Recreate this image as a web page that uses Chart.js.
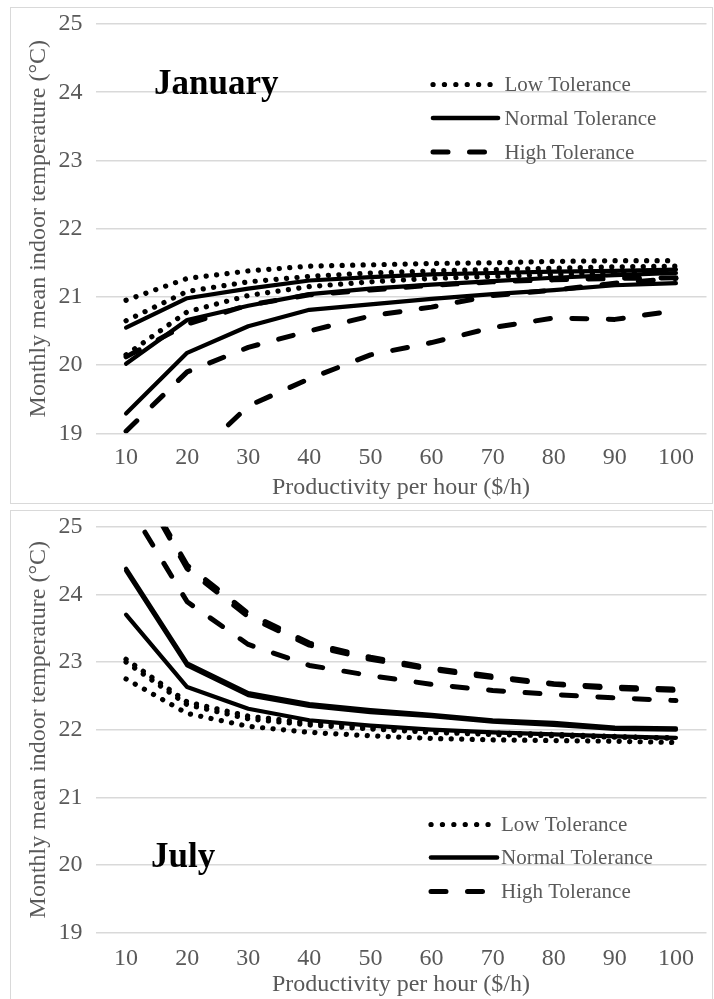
<!DOCTYPE html>
<html>
<head>
<meta charset="utf-8">
<script src="https://cdn.jsdelivr.net/npm/chart.js@4.4.1/dist/chart.umd.min.js"></script>
<style>
  html, body { margin: 0; padding: 0; background: #fff; }
  body { width: 714px; height: 999px; position: relative; overflow: hidden; }
  .frame { position: absolute; border: 1px solid #d9d9d9; box-sizing: border-box; }
  #frameJan { left: 10px; top: 7px; width: 703px; height: 497px; }
  #frameJul { left: 10px; top: 510px; width: 703px; height: 495px; }
  .wrap { position: absolute; left: 0; width: 714px; }
  #wrapJan { top: 0; height: 505px; }
  #wrapJul { top: 505px; height: 494px; }
</style>
</head>
<body>
<div class="frame" id="frameJan"></div>
<div class="frame" id="frameJul"></div>
<div class="wrap" id="wrapJan"><canvas id="janChart"></canvas></div>
<div class="wrap" id="wrapJul"><canvas id="julChart"></canvas></div>
<script>
// Productivity levels on the x axis ($/h)
const productivity = ['10', '20', '30', '40', '50', '60', '70', '80', '90', '100'];
// Temperature ticks on the y axis (°C)
const tempTicks = [19, 20, 21, 22, 23, 24, 25];
const toleranceLabels = ['Low Tolerance', 'Normal Tolerance', 'High Tolerance'];
const monthNames = ['January', 'July'];
const xTitle = 'Productivity per hour ($/h)';
const yTitle = 'Monthly mean indoor temperature (°C)';

// January: monthly mean indoor temperature, three cases per tolerance level
const janLowA  = [20.95, 21.27, 21.38, 21.45, 21.47, 21.49, 21.50, 21.52, 21.53, 21.53];
const janLowB  = [20.65, 21.08, 21.22, 21.30, 21.35, 21.38, 21.40, 21.42, 21.44, 21.45];
const janLowC  = [20.15, 20.78, 21.02, 21.15, 21.22, 21.27, 21.30, 21.33, 21.35, 21.37];
const janNormA = [20.55, 20.98, 21.12, 21.24, 21.29, 21.33, 21.35, 21.37, 21.38, 21.40];
const janNormB = [20.02, 20.66, 20.87, 21.04, 21.12, 21.18, 21.23, 21.28, 21.32, 21.35];
const janNormC = [19.29, 20.18, 20.57, 20.81, 20.89, 20.97, 21.04, 21.10, 21.17, 21.20];
const janHighA = [20.12, 20.60, 20.88, 21.03, 21.10, 21.17, 21.22, 21.25, 21.27, 21.28];
const janHighB = [19.03, 19.90, 20.26, 20.50, 20.72, 20.85, 21.02, 21.10, 21.20, 21.27];
const janHighC = [17.60, 18.55, 19.40, 19.80, 20.15, 20.33, 20.55, 20.69, 20.67, 20.80];

// July: monthly mean indoor temperature, three cases per tolerance level
const julLowA  = [23.04, 22.41, 22.20, 22.10, 22.03, 21.98, 21.95, 21.93, 21.90, 21.87];
const julLowB  = [23.00, 22.37, 22.16, 22.07, 22.01, 21.96, 21.93, 21.91, 21.89, 21.88];
const julLowC  = [22.75, 22.24, 22.05, 21.96, 21.91, 21.87, 21.85, 21.84, 21.83, 21.81];
const julNormA = [24.38, 22.98, 22.54, 22.38, 22.29, 22.22, 22.14, 22.10, 22.03, 22.02];
const julNormB = [24.35, 22.95, 22.51, 22.35, 22.26, 22.20, 22.12, 22.07, 22.01, 22.00];
const julNormC = [23.70, 22.63, 22.31, 22.14, 22.06, 22.00, 21.96, 21.93, 21.90, 21.88];
const julHighA = [26.00, 24.43, 23.72, 23.28, 23.07, 22.91, 22.79, 22.68, 22.63, 22.60];
const julHighB = [25.96, 24.38, 23.67, 23.25, 23.04, 22.89, 22.77, 22.67, 22.61, 22.58];
const julHighC = [25.38, 23.89, 23.26, 22.95, 22.80, 22.67, 22.58, 22.52, 22.47, 22.43];

const SERIF = "'Liberation Serif', 'Times New Roman', serif";
const GREY_TEXT = '#595959';

// Line styles for the three tolerance levels
const styles = {
  low:  { borderWidth: 5.2, borderDash: [0.1, 10.4], borderCapStyle: 'round' },
  norm: { borderWidth: 4.2, borderDash: [],          borderCapStyle: 'round' },
  high: { borderWidth: 5,   borderDash: [15, 21.5],  borderCapStyle: 'round' }
};

function series(values, kind) {
  return Object.assign({
    data: values,
    borderColor: '#000',
    backgroundColor: '#000',
    pointRadius: 0,
    pointHoverRadius: 0,
    tension: 0,
    fill: false,
    clip: 0,
    borderJoinStyle: 'round'
  }, styles[kind]);
}

// Draws the tolerance key and the month name inside the plot
const panelNotes = {
  id: 'panelNotes',
  afterDatasetsDraw(chart, args, opts) {
    const ctx = chart.ctx;
    ctx.save();
    ['low', 'norm', 'high'].forEach((kind, i) => {
      const y = opts.legendY[i];
      const st = styles[kind];
      ctx.strokeStyle = '#000';
      ctx.lineWidth = kind === 'norm' ? 4.6 : st.borderWidth;
      ctx.lineCap = st.borderCapStyle;
      ctx.setLineDash(kind === 'low' ? [0.1, 11.3] : st.borderDash);
      ctx.beginPath();
      ctx.moveTo(opts.sampleX0[i], y);
      ctx.lineTo(opts.sampleX1[i], y);
      ctx.stroke();
      ctx.setLineDash([]);
      ctx.fillStyle = GREY_TEXT;
      ctx.font = opts.legendFont + 'px ' + SERIF;
      ctx.textBaseline = 'middle';
      ctx.textAlign = 'left';
      ctx.fillText(toleranceLabels[i], opts.textX, y + 1);
    });
    ctx.fillStyle = '#000';
    ctx.font = 'bold ' + opts.monthFont + 'px ' + SERIF;
    ctx.textBaseline = 'alphabetic';
    ctx.textAlign = 'left';
    ctx.fillText(opts.month, opts.monthX, opts.monthY);
    ctx.restore();
  }
};

function makeChart(canvasId, datasets, geo, notes) {
  return new Chart(document.getElementById(canvasId), {
    type: 'line',
    data: { labels: productivity, datasets: datasets },
    options: {
      responsive: true,
      maintainAspectRatio: false,
      devicePixelRatio: 1,
      animation: false,
      events: [],
      layout: { padding: { left: 0, top: geo.top, right: 7.5, bottom: geo.bottomPad } },
      plugins: {
        legend: { display: false },
        tooltip: { enabled: false },
        panelNotes: notes
      },
      scales: {
        x: {
          type: 'category',
          offset: true,
          grid: { display: false, drawTicks: false },
          border: { display: false },
          ticks: { color: GREY_TEXT, font: { family: SERIF, size: 24 }, padding: geo.xTickPad, maxRotation: 0, autoSkip: false },
          title: { display: true, text: xTitle, color: GREY_TEXT, font: { family: SERIF, size: 24 }, padding: { top: 0, bottom: geo.xTitlePad } },
          afterFit(scale) {
            scale.height = geo.xHeight;
            scale.paddingLeft = 0;
            scale.paddingRight = 0;
          }
        },
        y: {
          min: 19,
          max: 25,
          afterBuildTicks(scale) { scale.ticks = tempTicks.map(v => ({ value: v })); },
          grid: { color: '#d9d9d9', lineWidth: 1.5, drawTicks: false },
          border: { display: false },
          ticks: { color: GREY_TEXT, font: { family: SERIF, size: 24 }, padding: 13 },
          title: { display: true, text: yTitle, color: GREY_TEXT, font: { family: SERIF, size: 24 }, padding: { top: 24, bottom: 0 } },
          afterFit(scale) {
            scale.width = 95.5;
            scale.paddingTop = 0;
            scale.paddingBottom = 0;
          }
        }
      }
    },
    plugins: [panelNotes]
  });
}

makeChart('janChart', [
  series(janLowA, 'low'), series(janLowB, 'low'), series(janLowC, 'low'),
  series(janNormA, 'norm'), series(janNormB, 'norm'), series(janNormC, 'norm'),
  series(janHighA, 'high'), series(janHighB, 'high'), series(janHighC, 'high')
], { top: 24, bottomPad: 0, xHeight: 71.7, xTickPad: 10.3, xTitlePad: 2.6 }, {
  legendY: [84.5, 118, 152], sampleX0: [433, 433, 433], sampleX1: [492.1, 498, 492],
  textX: 504.5, legendFont: 21, month: monthNames[0], monthX: 154, monthY: 94, monthFont: 35
});

makeChart('julChart', [
  series(julLowA, 'low'), series(julLowB, 'low'), series(julLowC, 'low'),
  series(julNormA, 'norm'), series(julNormB, 'norm'), series(julNormC, 'norm'),
  series(julHighA, 'high'), series(julHighB, 'high'), series(julHighC, 'high')
], { top: 21.7, bottomPad: 0, xHeight: 66.3, xTickPad: 11.2, xTitlePad: 0 }, {
  legendY: [319.5, 352.5, 386.5], sampleX0: [431, 431, 431], sampleX1: [490.1, 497, 490],
  textX: 501, legendFont: 21, month: monthNames[1], monthX: 151, monthY: 362, monthFont: 35
});
</script>
</body>
</html>
